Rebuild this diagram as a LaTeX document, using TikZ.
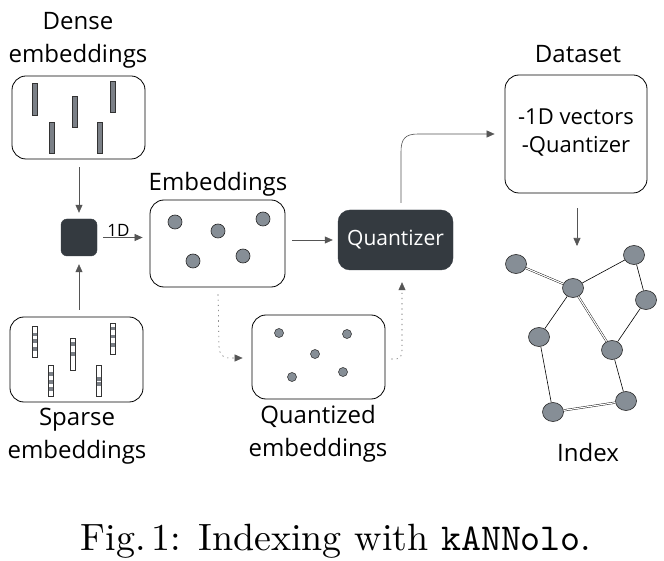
\documentclass[tikz,border=0pt]{standalone}
\usepackage{fontspec}
\newfontfamily\hand{Open Sans}
\usetikzlibrary{arrows.meta,calc,shapes.geometric}
\definecolor{darkbox}{HTML}{343A40}
\definecolor{dotgray}{HTML}{868E96}
\definecolor{bargray}{HTML}{7B8087}
\definecolor{lightline}{HTML}{555555}
\begin{document}
\begin{tikzpicture}[x=1pt,y=-1pt,
  box/.style={draw=black, line width=0.8pt, rounded corners=14pt, inner sep=0pt},
  darkn/.style={fill=darkbox, draw=darkbox, rounded corners=12pt, inner sep=0pt},
  lbl/.style={font=\hand\fontsize{24}{33}\selectfont, align=center, inner sep=0pt},
  conn/.style={draw=lightline, line width=0.6pt, -{Triangle[length=8pt,width=7pt]}},
  dotconn/.style={conn, dash pattern=on 1.2pt off 4pt},
  dot/.style={circle, draw=black!85, fill=dotgray, line width=0.6pt, minimum size=14pt, inner sep=0pt},
  sdot/.style={circle, draw=black!85, fill=dotgray, line width=0.5pt, minimum size=9pt, inner sep=0pt},
  gnode/.style={ellipse, draw=black!85, fill=dotgray, line width=0.6pt, minimum width=21pt, minimum height=19pt, inner sep=0pt},
  gedge/.style={draw=black, line width=0.6pt},
  dedge/.style={draw=black, line width=0.4pt, double=white, double distance=1.2pt},
]
\useasboundingbox (0,0) rectangle (664,561);
\fill[white] (0,0) rectangle (664,561);

% ---------- boxes ----------
\node[box, minimum width=133pt, minimum height=83pt] (dense) at (78.5,117.5) {};
\node[box, minimum width=133pt, minimum height=85pt] (sparse) at (76.5,359.5) {};
\node[box, minimum width=135pt, minimum height=87pt] (emb) at (217.5,243.5) {};
\node[box, minimum width=133pt, minimum height=84pt] (qemb) at (318.5,357) {};
\node[box, minimum width=142pt, minimum height=118pt] (data) at (576,134) {};
\node[darkn, minimum width=115pt, minimum height=60pt, font=\hand\fontsize{21}{24}\selectfont, text=white] (quant) at (395.5,240) {Quantizer};
\node[darkn, rounded corners=6pt, minimum width=36pt, minimum height=37pt] (sq) at (79,237.5) {};

% ---------- labels ----------
\node[lbl] (tdense) at (78,40) {Dense\\embeddings};
\node[lbl] (tsparse) at (77,436) {Sparse\\embeddings};
\node[lbl] (temb) at (218,184) {Embeddings};
\node[lbl] (tqemb) at (318,434) {Quantized\\embeddings};
\node[lbl] (tdata) at (578,54) {Dataset};
\node[lbl] (tindex) at (588,452) {Index};
\node[font=\hand\fontsize{22}{28}\selectfont, align=center, inner sep=0pt] (tdatac) at (576,133) {-1D vectors\\-Quantizer};

% ---------- dense bars ----------
\foreach \x/\ya/\yb in {35/83/115, 52/122/153, 75/96/127, 100/122/153, 113/81/112}{
  \draw[fill=bargray, draw=black!80, line width=0.5pt] (\x-2.5,\ya) rectangle (\x+2.5,\yb);
}

% ---------- sparse bars ----------
\foreach \x/\ya/\yb/\segs in {34.5/326/357/{333,339,347}, 50.5/365/396/{372,380,387}, 73/338/370/{342,352}, 99/365/396/{377,382}, 112.5/323/354/{327,335,343}}{
  \draw[fill=white, draw=black!80, line width=0.5pt] (\x-2.3,\ya) rectangle (\x+2.3,\yb);
  \foreach \s in \segs {
    \fill[bargray] (\x-2.1,\s) rectangle (\x+2.1,\s+3.5);
  }
  \draw[draw=black!80, line width=0.5pt] (\x-2.3,\ya) rectangle (\x+2.3,\yb);
}

% ---------- embedding dots ----------
\node[dot] (e1) at (175,222) {};
\node[dot] (e2) at (218,231) {};
\node[dot] (e3) at (263,219) {};
\node[dot] (e4) at (193,261) {};
\node[dot] (e5) at (243,256) {};

\node[sdot] (q1) at (279,333) {};
\node[sdot] (q2) at (347,334) {};
\node[sdot] (q3) at (315,354) {};
\node[sdot] (q4) at (292,377) {};
\node[sdot] (q5) at (343,372) {};

% ---------- graph ----------
\node[gnode] (ga) at (516,264) {};
\node[gnode] (gb) at (573,288) {};
\node[gnode] (gc) at (634,255) {};
\node[gnode] (gd) at (646,300) {};
\node[gnode] (ge) at (539,337) {};
\node[gnode] (gf) at (612,350) {};
\node[gnode] (gg) at (553,412) {};
\node[gnode] (gh) at (626,401) {};
\draw[dedge] (ga) -- (gb);
\draw[gedge] (gb) -- (gc);
\draw[gedge] (gc) -- (gd);
\draw[gedge] (gd) -- (gf);
\draw[dedge] (gb) -- (gf);
\draw[gedge] (gb) -- (ge);
\draw[gedge] (ge) -- (gg);
\draw[gedge] (gf) -- (gh);
\draw[dedge] (gg) -- (gh);

% ---------- connectors ----------
\draw[conn, shorten <=8pt, shorten >=6pt] (dense.south -| sq.north) -- (sq.north);
\draw[conn, shorten <=7pt, shorten >=8pt] (sparse.north -| sq.south) -- (sq.south);
\draw[conn, shorten <=6pt, shorten >=7pt] (sq.east) -- node[above=0pt, font=\hand\fontsize{17}{20}\selectfont, inner sep=1pt, xshift=-5pt] (t1d) {1D} (sq.east -| emb.west);
\draw[conn, shorten <=7pt, shorten >=5pt] (emb.east |- quant.west) -- (quant.west);
\coordinate (qtop) at ($(quant.north)+(5.5,-7)$);
\coordinate (dleft) at ($(data.west)+(-10,0)$);
\draw[conn] (qtop) -- (401,152) .. controls (401,139) and (405,134) .. (418,134) -- (dleft);
\coordinate (ebot) at ($(emb.south)+(0.5,7)$);
\coordinate (qleft) at ($(qemb.west)+(-9,1)$);
\draw[dotconn] (ebot) -- (219,346) .. controls (219,354) and (222,358) .. (230,358) -- (qleft);
\coordinate (qright) at ($(qemb.east)+(6,2)$);
\coordinate (qbot) at ($(quant.south)+(6.5,12)$);
\draw[dotconn] (qright) -- (396,359) .. controls (400,359) and (402,356) .. (402,350) -- (qbot);
\coordinate (dbot) at ($(data.south)+(1,15)$);
\coordinate (gtop) at (577,246);
\draw[conn] (dbot) -- (gtop);

% ---------- caption ----------
\node[font=\fontsize{10}{12}\selectfont, scale=3.8, inner sep=0pt] (cap) at (336,541) {Fig.\,1: Indexing with \texttt{kANNolo}.};
\end{tikzpicture}
\end{document}
